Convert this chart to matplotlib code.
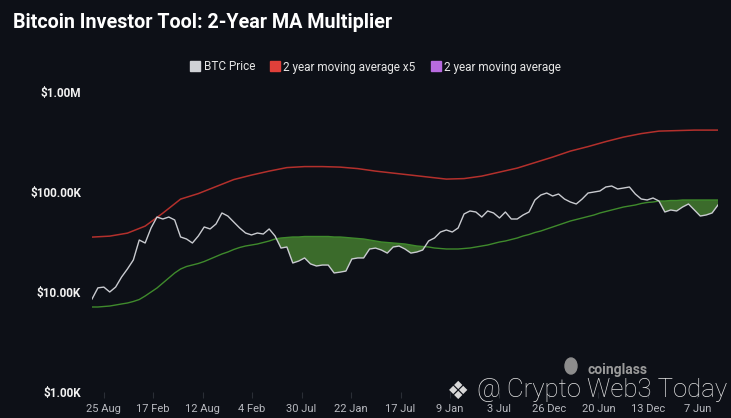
import matplotlib
matplotlib.use('Agg')
import numpy as np
import pandas as pd
import matplotlib.pyplot as plt
from matplotlib.lines import Line2D
from matplotlib.patches import Ellipse

# Data (values in thousands of USD)
# BTC price, one sample every 21 days starting 15 Jul 2020
start_date = '2020-07-15'
step_days = 21
btc_price = [8.5, 11.0, 11.2, 10.0, 11.2, 14.1, 17.0, 20.9, 33.1, 30.9,
             43.7, 56.2, 53.7, 56.2, 52.5, 35.5, 33.9, 30.9, 36.3, 44.7,
             42.7, 47.9, 61.7, 57.5, 50.1, 43.7, 38.9, 37.2, 38.9, 38.0,
             42.7, 36.3, 27.5, 28.2, 19.5, 20.4, 21.9, 19.1, 18.2, 18.6,
             18.6, 15.5, 15.8, 16.2, 21.4, 21.9, 21.9, 26.9, 27.5, 26.3,
             24.5, 28.2, 28.8, 26.9, 24.5, 25.1, 26.3, 32.4, 34.7, 39.8,
             41.7, 39.8, 43.7, 60.3, 64.6, 63.1, 56.2, 64.6, 61.7, 55.0,
             63.1, 53.7, 53.7, 58.9, 63.1, 83.2, 93.3, 97.7, 91.2, 95.5,
             85.1, 79.4, 75.9, 85.1, 97.7, 100.0, 102.3, 112.2, 114.8, 107.2,
             109.6, 112.2, 95.5, 85.1, 83.2, 87.1, 81.3, 63.1, 66.1, 64.6,
             70.8, 75.9, 66.1, 57.5, 58.9, 61.7, 74.1]

# 2 year moving average, same dates
ma_2y = [7.08, 7.08, 7.16, 7.24, 7.41, 7.59, 7.76, 8.04, 8.41, 9.12,
         10.0, 10.96, 12.30, 13.80, 15.49, 16.98, 17.99, 18.62, 19.28, 20.18,
         21.38, 22.65, 23.99, 25.12, 26.61, 27.86, 28.84, 29.51, 30.20, 31.26,
         32.36, 33.88, 34.67, 35.08, 35.48, 35.48, 35.89, 35.89, 35.89, 35.89,
         35.89, 35.48, 35.48, 35.08, 34.67, 34.28, 33.88, 33.11, 32.36, 31.62,
         31.26, 30.90, 30.55, 30.20, 29.51, 28.84, 28.51, 28.18, 27.54, 27.23,
         26.92, 26.92, 26.92, 27.23, 27.54, 28.18, 28.84, 29.51, 30.55, 31.62,
         32.36, 33.50, 34.67, 36.31, 37.58, 39.36, 40.74, 42.66, 44.67, 46.77,
         48.98, 51.29, 53.09, 54.95, 56.89, 58.88, 61.66, 63.83, 66.07, 68.39,
         70.79, 72.44, 74.13, 76.74, 78.52, 79.43, 81.28, 81.28, 82.22, 82.22,
         83.18, 83.18, 83.18, 83.18, 83.18, 83.18, 83.18]

# 2 year moving average x5, read every third sample
ma_x5_step = list(range(0, 106, 3)) + [106]
ma_x5 = [35.4, 36.2, 38.8, 45.6, 61.5, 84.9, 96.4, 113.3, 133.1, 147.6,
         161.8, 175.4, 179.5, 179.5, 177.4, 171.4, 161.8, 154.5, 147.6, 140.9,
         134.6, 136.2, 144.2, 158.1, 173.4, 196.8, 223.4, 256.5, 284.5, 319.2,
         354.0, 383.7, 406.4, 411.1, 415.9, 415.9, 415.9]

tick_dates = ['2020-08-25', '2021-02-17', '2021-08-12', '2022-02-04', '2022-07-30',
              '2023-01-22', '2023-07-17', '2024-01-09', '2024-07-03', '2024-12-26',
              '2025-06-20', '2025-12-13', '2026-06-07']
tick_labels = ['25 Aug', '17 Feb', '12 Aug', '4 Feb', '30 Jul', '22 Jan', '17 Jul',
               '9 Jan', '3 Jul', '26 Dec', '20 Jun', '13 Dec', '7 Jun']

y_ticks = [1e3, 1e4, 1e5, 1e6]
y_labels = ['$1.00K', '$10.00K', '$100.00K', '$1.00M']

legend_labels = ['BTC Price', '2 year moving average x5', '2 year moving average']
legend_colors = ['#cfd1d6', '#e0403a', '#b86be0']

bg = '#0d1017'
font = ['Roboto', 'DejaVu Sans']

dates = pd.date_range(start_date, periods=len(btc_price), freq=f'{step_days}D')
price = np.array(btc_price) * 1000
ma = np.array(ma_2y) * 1000
ma5 = np.array(ma_x5) * 1000
ma5_dates = dates[ma_x5_step]

fig = plt.figure(figsize=(7.31, 4.18), dpi=100, facecolor=bg)
ax = fig.add_axes([92 / 731, 1 - 392 / 418, (718 - 92) / 731, 300 / 418])
ax.set_facecolor(bg)

ax.fill_between(dates, price, ma, where=price < ma, interpolate=True,
                color='#3b6b2b', linewidth=0, zorder=1)
ax.plot(ma5_dates, ma5, color='#b3302c', linewidth=1.1, zorder=2)
ax.plot(dates, ma, color='#3f8a2c', linewidth=1.0, zorder=2)
ax.plot(dates, price, color='#c9cbd0', linewidth=1.0, zorder=3)

ax.set_yscale('log')
ax.set_ylim(1e3, 1e6)
ax.set_yticks(y_ticks)
ax.set_yticklabels(y_labels)
ax.yaxis.set_minor_locator(matplotlib.ticker.NullLocator())
ax.set_xlim(dates[0], dates[-1])
ax.set_xticks(pd.to_datetime(tick_dates))
ax.set_xticklabels(tick_labels)

for s in ax.spines.values():
    s.set_visible(False)
ax.tick_params(axis='y', length=0, pad=8, labelcolor='#f2f2f2', labelsize=8.5)
ax.tick_params(axis='x', length=4, color='#2a2e36', pad=5, labelcolor='#b8bac0', labelsize=8)
for lab in ax.get_xticklabels() + ax.get_yticklabels():
    lab.set_family(font)
for lab in ax.get_yticklabels():
    lab.set_fontweight('bold')

fig.text(13 / 731, 1 - 22 / 418, 'Bitcoin Investor Tool: 2-Year MA Multiplier',
         color='white', fontsize=14.2, fontweight='bold', family=font,
         ha='left', va='center')

handles = [Line2D([], [], marker='s', linestyle='none', markersize=7,
                  markerfacecolor=c, markeredgecolor=c) for c in legend_colors]
fig.legend(handles, legend_labels, loc='center', bbox_to_anchor=(0.513, 1 - 67 / 418),
           ncol=3, frameon=False, labelcolor='#e6e6e6', handletextpad=0.2,
           columnspacing=1.2, handlelength=1.0, prop={'family': font, 'size': 8.5})

# watermarks
fig.add_artist(Ellipse((571 / 731, 1 - 366 / 418), 12 / 731, 16 / 418,
                       color='#8d8d8d', transform=fig.transFigure))
fig.text(588 / 731, 1 - 370 / 418, 'coinglass', color='#9a9a9a', fontsize=10,
         fontweight='bold', family=font, ha='left', va='center')
fig.text(458 / 731, 1 - 392 / 418, '\u2756', color='#d8d8d8', fontsize=18,
         ha='center', va='center', family='DejaVu Sans')
fig.text(477 / 731, 1 - 390 / 418, '@ Crypto Web3 Today', color='#e4e4e4', fontsize=18.5,
         ha='left', va='center', family=font, fontweight='light')

fig.savefig('out.png', dpi=100, facecolor=bg)
